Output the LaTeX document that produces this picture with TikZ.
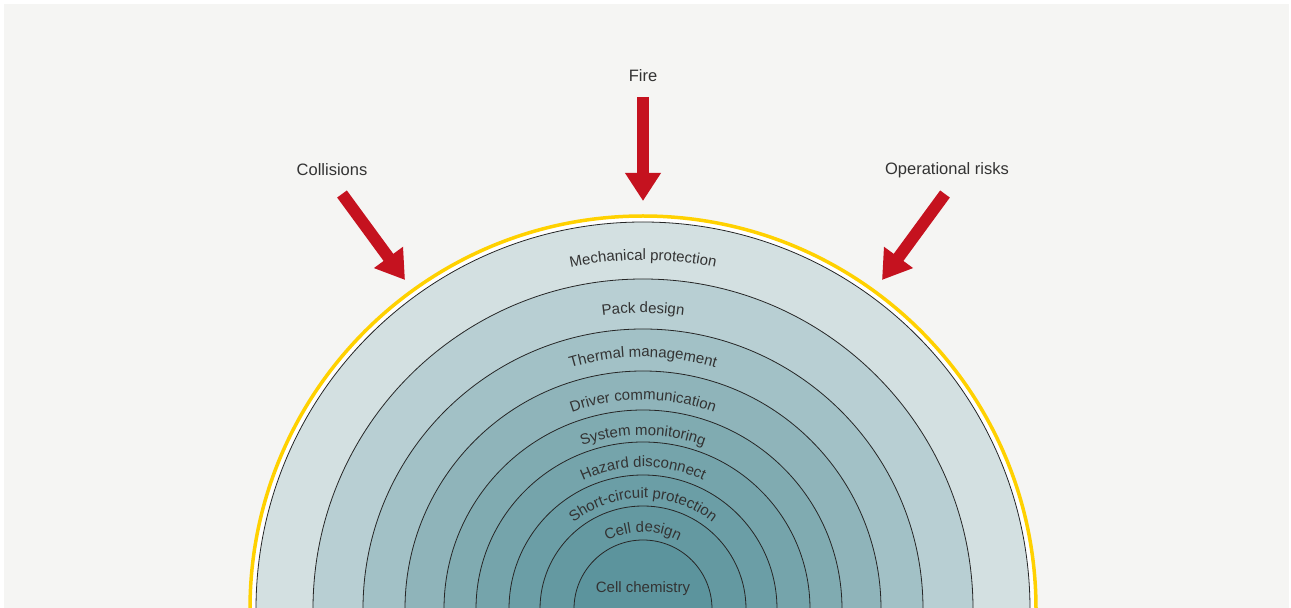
\documentclass[tikz,border=0pt]{standalone}
\usepackage{fontspec}
\setmainfont{Liberation Sans}
\usetikzlibrary{arrows.meta,decorations.text}

\definecolor{paper}{HTML}{F5F5F3}
\definecolor{ink}{HTML}{333333}
\definecolor{threatred}{HTML}{C5121F}
\definecolor{rimyellow}{HTML}{FFD100}
\definecolor{layerA}{HTML}{D3E0E1}
\definecolor{layerB}{HTML}{B8CFD3}
\definecolor{layerC}{HTML}{A2C1C6}
\definecolor{layerD}{HTML}{8FB4BA}
\definecolor{layerE}{HTML}{80ABB1}
\definecolor{layerF}{HTML}{75A4AB}
\definecolor{layerG}{HTML}{6B9EA6}
\definecolor{layerH}{HTML}{6499A1}
\definecolor{layerI}{HTML}{5C949D}

\newcommand{\arcfont}{\fontsize{15}{15}\selectfont}

\tikzset{
  x=1pt, y=1pt,
  layer/.style={draw=black!85, line width=0.8pt},
  threat/.style={draw=threatred, line width=12pt,
    -{Triangle[length=28pt,width=34pt]}},
  toplabel/.style={font=\fontsize{16.5}{18}\selectfont, text=ink, inner sep=0pt},
  arclabel/.style={decorate, decoration={text along path, text align=center,
    text color=ink, text={|\arcfont|#1}}},
}

\begin{document}
\begin{tikzpicture}
  % canvas
  \useasboundingbox (0,0) rectangle (1291,608);
  \fill[white] (0,0) rectangle (1291,608);
  \fill[paper] (4,0) rectangle (1289,604);

  \coordinate (C) at (643,-1);

  % nested protective layers
  \begin{scope}
    \clip (0,0) rectangle (1291,608);
    \filldraw[fill=white, draw=rimyellow, line width=3.5pt] (C) circle[radius=393];
    \filldraw[layer, fill=layerA] (C) circle[radius=387];
    \filldraw[layer, fill=layerB] (C) circle[radius=330];
    \filldraw[layer, fill=layerC] (C) circle[radius=280];
    \filldraw[layer, fill=layerD] (C) circle[radius=238];
    \filldraw[layer, fill=layerE] (C) circle[radius=199];
    \filldraw[layer, fill=layerF] (C) circle[radius=167];
    \filldraw[layer, fill=layerG] (C) circle[radius=134];
    \filldraw[layer, fill=layerH] (C) circle[radius=103];
    \filldraw[layer, fill=layerI] (C) circle[radius=69];
  \end{scope}

  % layer names along their arcs
  \path[arclabel={Mechanical protection}] (C) ++(180:349) arc[start angle=180, end angle=0, radius=349];
  \path[arclabel={Pack design}] (C) ++(180:296) arc[start angle=180, end angle=0, radius=296];
  \path[arclabel={Thermal management}] (C) ++(180:252) arc[start angle=180, end angle=0, radius=252];
  \path[arclabel={Driver communication}] (C) ++(180:209) arc[start angle=180, end angle=0, radius=209];
  \path[arclabel={System monitoring}] (C) ++(180:174) arc[start angle=180, end angle=0, radius=174];
  \path[arclabel={Hazard disconnect}] (C) ++(180:142) arc[start angle=180, end angle=0, radius=142];
  \path[arclabel={Short-circuit protection}] (C) ++(180:111) arc[start angle=180, end angle=0, radius=111];
  \path[arclabel={Cell design}] (C) ++(180:77) arc[start angle=180, end angle=0, radius=77];
  \node[font=\arcfont, text=ink, anchor=base, inner sep=0pt] (chem) at (643,15) {Cell chemistry};

  % external threats
  \node[toplabel] (fire) at (643,532) {Fire};
  \node[toplabel] (coll) at (332,438) {Collisions};
  \node[toplabel] (oper) at (947,438) {Operational risks};

  \coordinate (fireTail) at (643,511);
  \coordinate (fireTip)  at (643,407);
  \coordinate (collTail) at (342,414);
  \coordinate (collTip)  at (405,328);
  \coordinate (operTail) at (945,414);
  \coordinate (operTip)  at (882,328);

  \draw[threat] (fireTail) -- (fireTip);
  \draw[threat] (collTail) -- (collTip);
  \draw[threat] (operTail) -- (operTip);
\end{tikzpicture}
\end{document}
